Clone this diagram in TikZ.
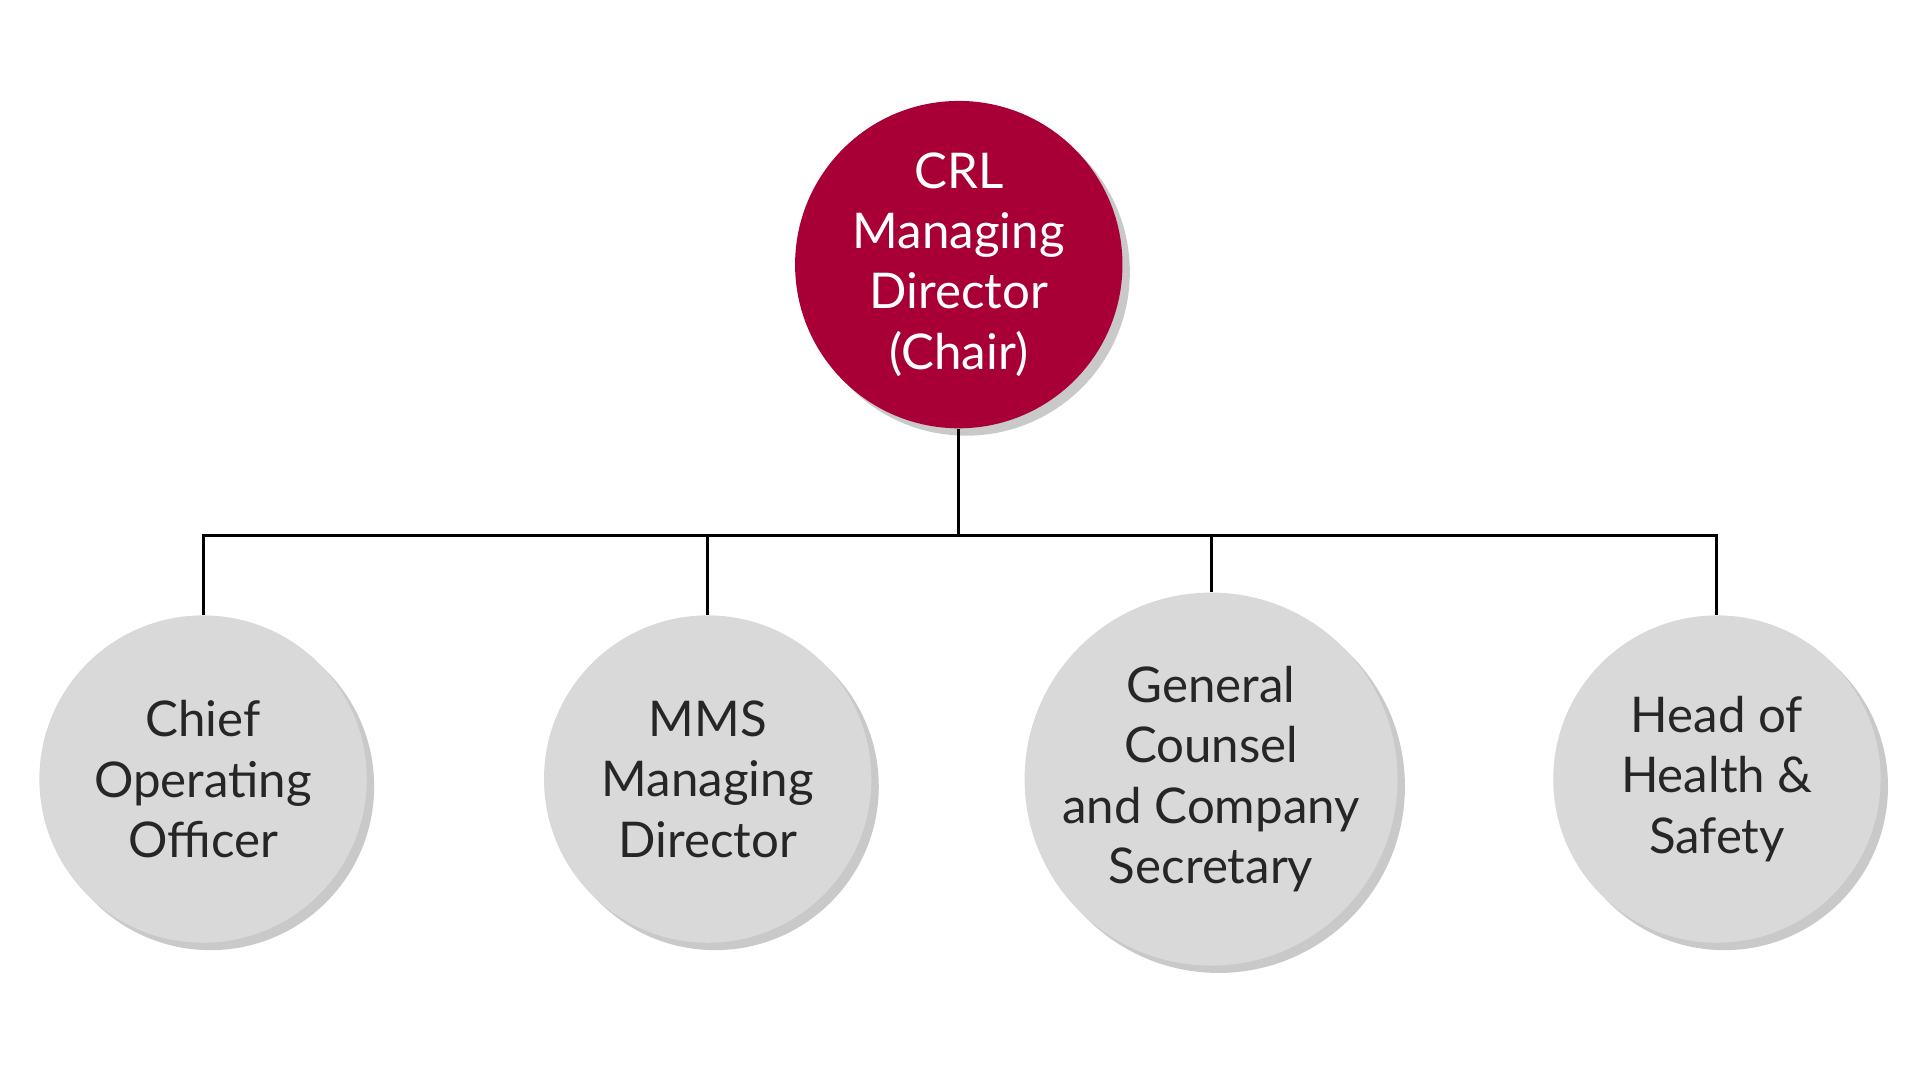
\documentclass[tikz,border=0pt]{standalone}
\usepackage{fontspec}
\setmainfont{Lato}
\usetikzlibrary{shadows}
\definecolor{crlred}{HTML}{A80036}
\definecolor{circgray}{HTML}{D9D9D9}
\tikzset{
  circ/.style={circle, minimum size=133pt, inner sep=0pt, align=center,
    font=\fontsize{20}{24.5}\selectfont, drop shadow={shadow xshift=3pt, shadow yshift=-3pt, opacity=0.35, fill=black!60}},
  top/.style={circ, fill=crlred, text=white},
  sub/.style={circ, fill=circgray, text=black!85},
  conn/.style={line width=1.2pt, black}
}
\begin{document}
\begin{tikzpicture}[x=0.5pt,y=-0.5pt]
\useasboundingbox[fill=white] (0,0) rectangle (1560,877.5);
\node[top] (crl) at (779,215) {CRL\\Managing\\Director\\(Chair)};
\node[sub] (coo) at (165,633) {Chief\\Operating\\Officer};
\node[sub] (mms) at (575,633) {MMS\\Managing\\Director};
\node[sub] (gc) at (984,633) {General\\Counsel\\and Company\\Secretary};
\node[sub] (hhs) at (1395,633) {Head of\\Health \&\\Safety};
\coordinate (j) at (779,435);
\draw[conn] (crl.south) -- (j);
\draw[conn] (coo.north) -- (165,435) -- (1395,435) -- (hhs.north);
\draw[conn] (mms.north) -- (575,435);
\draw[conn] (gc.north) -- (984,435);
\end{tikzpicture}
\end{document}
